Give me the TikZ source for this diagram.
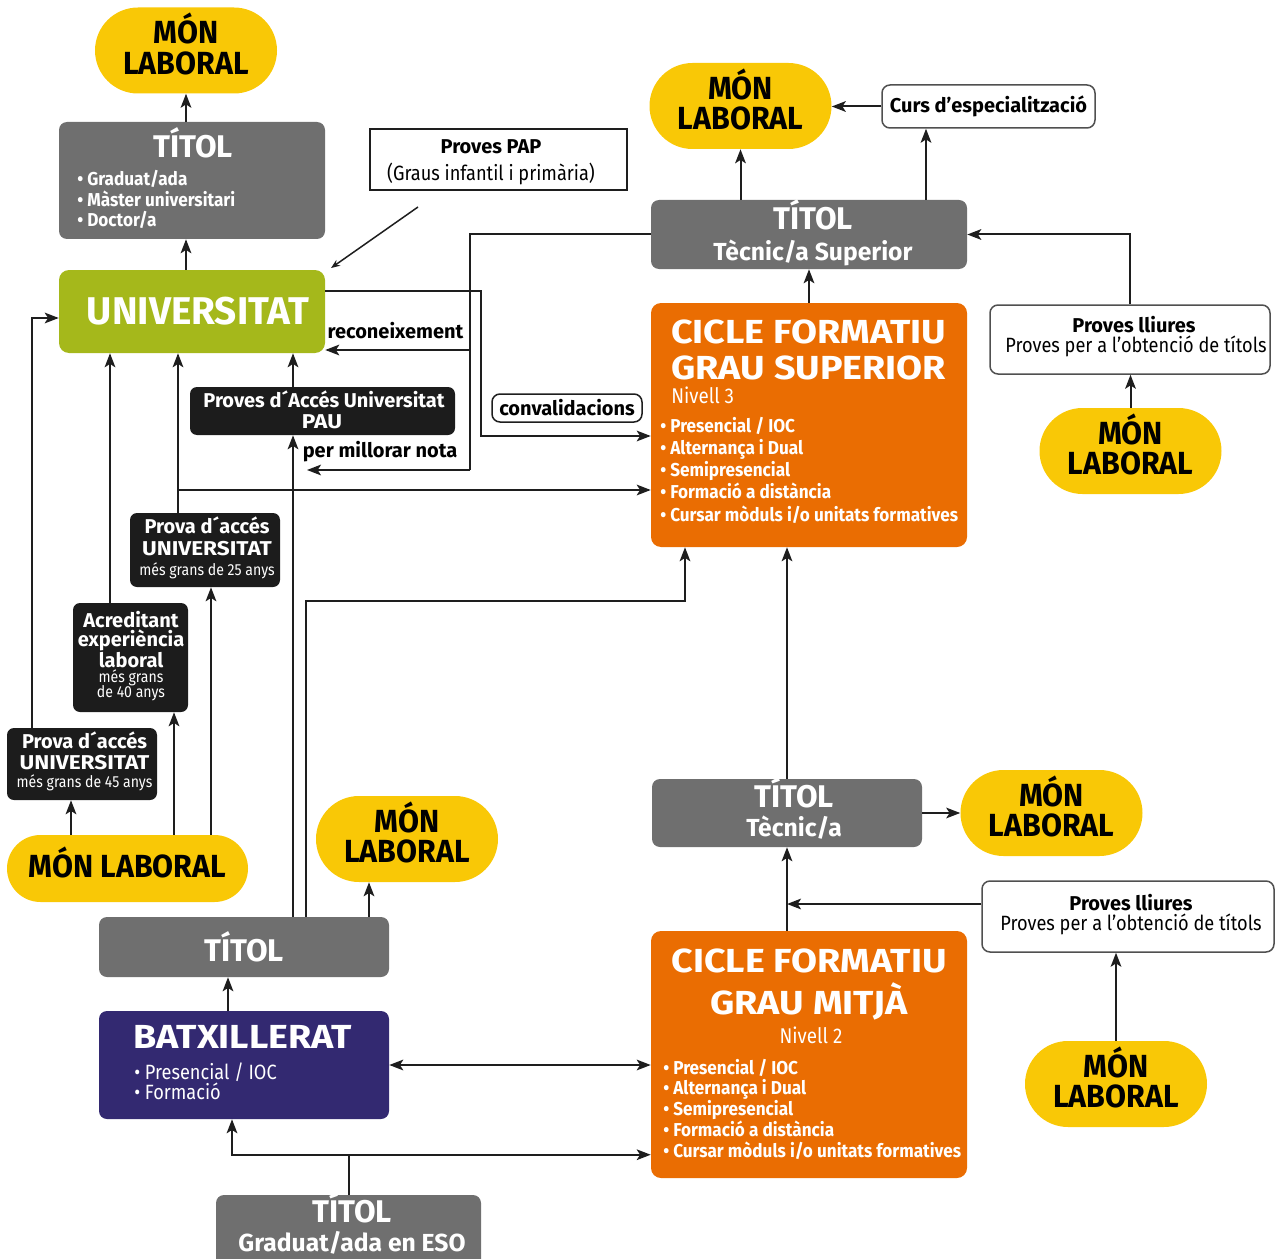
\documentclass[tikz,border=0pt]{standalone}
\usepackage{fontspec}
\setmainfont{Fira Sans}[FakeStretch=0.88]
\newfontfamily\bfam{Fira Sans}
\newfontfamily\bulfam{Fira Sans}[FakeStretch=0.92]
\newfontfamily\monfam{Fira Sans}[FakeStretch=0.95]
\newfontfamily\widefam{Fira Sans}[FakeStretch=1.13]
\usetikzlibrary{arrows.meta, shapes.misc}

\definecolor{monyellow}{RGB}{249,200,6}
\definecolor{titgray}{RGB}{111,111,111}
\definecolor{univgreen}{RGB}{165,184,27}
\definecolor{cforange}{RGB}{234,109,2}
\definecolor{batxblue}{RGB}{51,41,113}
\definecolor{boxblack}{RGB}{28,28,28}
\definecolor{linec}{RGB}{30,30,30}
\definecolor{rimgray}{RGB}{80,80,80}

\newlength\pxl
\setlength\pxl{0.75pt}
\newcommand\fmon{\monfam\bfseries\fontsize{24}{23}\selectfont}
\newcommand\ftit{\bfam\bfseries\fontsize{23.5}{24}\selectfont}
\newcommand\fsub{\bfam\bfseries\fontsize{18.5}{20}\selectfont}
\newcommand\funiv{\bfam\bfseries\fontsize{29}{30}\selectfont}
\newcommand\fcf{\widefam\bfseries\fontsize{25}{27}\selectfont}
\newcommand\fniv{\fontsize{16}{18}\selectfont}
\newcommand\fbul{\bulfam\bfseries\fontsize{14}{16}\selectfont}
\newcommand\fsm{\bfam\bfseries\fontsize{15}{16}\selectfont}
\newcommand\fcap{\widefam\bfseries\fontsize{15}{16}\selectfont}
\newcommand\freg{\fontsize{15.5}{17}\selectfont}
\newcommand\ftiny{\fontsize{12}{12}\selectfont}

\tikzset{
  mon_style/.style={rounded rectangle, fill=monyellow, text=black, font=\fmon, align=center, inner sep=0pt, text depth=10pt, minimum width=182\pxl, minimum height=86\pxl},
  tit_style/.style={rectangle, rounded corners=8\pxl, fill=titgray, text=white, align=center, inner sep=0pt},
  blk_style/.style={rectangle, rounded corners=7\pxl, fill=boxblack, inner sep=0pt},
  cf_style/.style={rectangle, rounded corners=10\pxl, fill=cforange, inner sep=0pt, minimum width=316\pxl},
  wht_style/.style={rectangle, rounded corners=8\pxl, draw=rimgray, line width=1.5\pxl, fill=white, align=center, inner sep=0pt},
  tx_style/.style={inner sep=0pt, text=white},
  arr/.style={draw=linec, line width=2\pxl, -{Stealth[length=10.5pt, width=8pt, inset=2.5pt]}},
  arr2/.style={draw=linec, line width=2\pxl, {Stealth[length=10.5pt, width=8pt, inset=2.5pt]}-{Stealth[length=10.5pt, width=8pt, inset=2.5pt]}},
  lin/.style={draw=linec, line width=2\pxl},
}

\begin{document}
\begin{tikzpicture}[x=0.75pt, y=-0.75pt]
    \useasboundingbox (0,0) rectangle (1275,1259);

    % university side
    \node[mon_style] (ml1) at (186,50.5) {MÓN\\LABORAL};
    \node[tit_style, minimum width=266\pxl, minimum height=117\pxl] (titU) at (192,180.5) {};
    \node[tx_style, anchor=base, font=\ftit] at (193,158) {TÍTOL};
    \foreach \lbl [count=\i] in {Graduat/ada, Màster universitari, Doctor/a}
        \node[tx_style, anchor=base west, font=\fbul] at (77,{165.5+20.5*\i}) {• \lbl};
    \node[rectangle, rounded corners=10\pxl, fill=univgreen, text=white, font=\funiv, minimum width=266\pxl, minimum height=83\pxl, inner sep=0pt] (univ) at (192,311.5) {\hspace{12\pxl}UNIVERSITAT};

    \node[draw=linec, line width=1.2\pxl, fill=white, minimum width=257\pxl, minimum height=61\pxl, inner sep=0pt] (pap) at (498.5,159.5) {};
    \node[anchor=base, font=\fsm] at (491,154) {Proves PAP};
    \node[anchor=base, font=\freg] at (491,181) {(Graus infantil i primària)};

    \node[blk_style, minimum width=265\pxl, minimum height=48\pxl] (pau) at (322.5,411) {};
    \node[tx_style, anchor=base, font=\fsm] at (324,407) {Proves d´Accés Universitat};
    \node[tx_style, anchor=base, font=\fcap] at (322,428) {PAU};

    \node[blk_style, minimum width=150\pxl, minimum height=74\pxl] (p25) at (205,550) {};
    \node[tx_style, anchor=base, font=\fsm] at (207,533) {Prova d´accés};
    \node[tx_style, anchor=base, font=\fcap] at (207,555) {UNIVERSITAT};
    \node[tx_style, anchor=base, font=\ftiny] at (207,575) {més grans de 25 anys};

    \node[blk_style, minimum width=115\pxl, minimum height=109\pxl] (acr) at (130.5,657.5) {};
    \node[tx_style, anchor=base, font=\fsm] at (131,627) {Acreditant};
    \node[tx_style, anchor=base, font=\fsm] at (131,646) {experiència};
    \node[tx_style, anchor=base, font=\fsm] at (131,667) {laboral};
    \node[tx_style, anchor=base, font=\ftiny] at (131,682) {més grans};
    \node[tx_style, anchor=base, font=\ftiny] at (131,697) {de 40 anys};

    \node[blk_style, minimum width=150\pxl, minimum height=72\pxl] (p45) at (82,764) {};
    \node[tx_style, anchor=base, font=\fsm] at (84.5,748) {Prova d´accés};
    \node[tx_style, anchor=base, font=\fcap] at (84.5,769) {UNIVERSITAT};
    \node[tx_style, anchor=base, font=\ftiny] at (84.5,787) {més grans de 45 anys};

    \node[mon_style, minimum width=241\pxl, minimum height=67\pxl] (ml4) at (127.5,868.5) {MÓN LABORAL};
    \node[mon_style] (ml5) at (407,839) {MÓN\\LABORAL};

    \node[tit_style, minimum width=290\pxl, minimum height=60\pxl, font=\ftit] (titB) at (244,947) {TÍTOL};
    \node[rectangle, rounded corners=8\pxl, fill=batxblue, minimum width=290\pxl, minimum height=108\pxl] (batx) at (244,1065) {};
    \node[tx_style, anchor=base west, font=\fcf] at (133,1048) {BATXILLERAT};
    \node[tx_style, anchor=base west, font=\freg] at (134,1079) {• Presencial / IOC};
    \node[tx_style, anchor=base west, font=\freg] at (134,1099) {• Formació};

    \node[tit_style, minimum width=265\pxl, minimum height=75\pxl] (titE) at (348.5,1232.5) {};
    \node[tx_style, anchor=base, font=\ftit] at (352,1222) {TÍTOL};
    \node[tx_style, anchor=base, font=\fsub] at (352,1251) {Graduat/ada en ESO};

    % vocational side
    \node[mon_style] (ml2) at (740.5,106) {MÓN\\LABORAL};
    \node[wht_style, minimum width=213\pxl, minimum height=43\pxl, font=\fsm] (curs) at (988.5,106.5) {Curs d’especialització};
    \node[tit_style, minimum width=316\pxl, minimum height=69\pxl] (titS) at (809,234.5) {};
    \node[tx_style, anchor=base, font=\ftit] at (813,229) {TÍTOL};
    \node[tx_style, anchor=base, font=\fsub] at (813,260) {Tècnic/a Superior};

    \node[cf_style, minimum height=244\pxl] (cfgs) at (809,425) {};
    \node[tx_style, anchor=base west, font=\fcf] at (671,343) {CICLE FORMATIU};
    \node[tx_style, anchor=base west, font=\fcf] at (671,379) {GRAU SUPERIOR};
    \node[tx_style, anchor=base west, font=\fniv] at (671,403) {Nivell 3};
    \foreach \lbl [count=\i] in {Presencial / IOC, Alternança i Dual, Semipresencial, Formació a distància, Cursar mòduls i/o unitats formatives}
        \node[tx_style, anchor=base west, font=\fbul] at (660,{409.75+22.25*\i}) {• \lbl};

    \node[wht_style, minimum width=280\pxl, minimum height=69\pxl] (pl1) at (1130,339.5) {};
    \node[anchor=base, font=\fsm] at (1134,332) {Proves lliures};
    \node[anchor=base, font=\freg] at (1136,352) {Proves per a l’obtenció de títols};
    \node[mon_style] (ml3) at (1130.5,451) {MÓN\\LABORAL};

    \node[tit_style, minimum width=270\pxl, minimum height=68\pxl] (titT) at (787,813) {};
    \node[tx_style, anchor=base, font=\ftit] at (794,807) {TÍTOL};
    \node[tx_style, anchor=base, font=\fsub] at (794,836) {Tècnic/a};
    \node[mon_style] (ml6) at (1051.5,813) {MÓN\\LABORAL};

    \node[cf_style, minimum height=247\pxl] (cfgm) at (809,1054.5) {};
    \node[tx_style, anchor=base, font=\fcf] at (809,972) {CICLE FORMATIU};
    \node[tx_style, anchor=base, font=\fcf] at (809,1014) {GRAU MITJÀ};
    \node[tx_style, anchor=base, font=\fniv] at (811,1043) {Nivell 2};
    \foreach \lbl [count=\i] in {Presencial / IOC, Alternança i Dual, Semipresencial, Formació a distància, Cursar mòduls i/o unitats formatives}
        \node[tx_style, anchor=base west, font=\fbul] at (663,{1053.25+20.75*\i}) {• \lbl};

    \node[wht_style, minimum width=292\pxl, minimum height=71\pxl] (pl2) at (1128,916.5) {};
    \node[anchor=base, font=\fsm] at (1131,910) {Proves lliures};
    \node[anchor=base, font=\freg] at (1131,930) {Proves per a l’obtenció de títols};
    \node[mon_style] (ml7) at (1116,1084) {MÓN\\LABORAL};

    % labels on the links
    \node[anchor=base, font=\fsm] (rec) at (395.5,338) {reconeixement};
    \node[anchor=base, font=\fsm] (pmn) at (380,457) {per millorar nota};
    \node[wht_style, draw=linec, minimum width=150\pxl, minimum height=28\pxl, font=\fsm] (conv) at (567,408) {convalidacions};

    % links, university side
    \draw[arr] (ml1.south |- titU.north) -- (ml1.south);
    \draw[arr] (ml1.south |- univ.north) -- (ml1.south |- titU.south);
    \coordinate (papA) at (418,207);
    \coordinate (papB) at (331,268);
    \draw[draw=linec, line width=1.5\pxl, -{Stealth[length=6.75pt, width=5.25pt]}] (papA) -- (papB);

    \coordinate (rkB) at (470,470);
    \coordinate (rkC) at (470,350);
    \coordinate (pmnT) at (307,470);
    \draw[lin] (titS.west) -| (rkB);
    \draw[arr] (rkB) -- (pmnT);
    \draw[arr] (rkC) -- (rkC -| univ.east);

    \coordinate (cvA) at (481,291);
    \coordinate (cvB) at (481,436);
    \draw[arr] (univ.east |- cvA) -- (cvA) -- (cvB) -- (cvB -| cfgs.west);

    \coordinate (tb1) at ([xshift=49\pxl]titB.north);
    \coordinate (tb2) at ([xshift=62\pxl]titB.north);
    \coordinate (tb3) at ([xshift=125\pxl]titB.north);
    \draw[arr] (tb1) -- (tb1 |- pau.south);
    \draw[arr] (tb1 |- pau.north) -- (tb1 |- univ.south);
    \coordinate (cfA) at (306,601);
    \coordinate (cfB) at (685,601);
    \draw[arr] (tb2) -- (cfA) -- (cfB) -- (cfB |- cfgs.south);
    \draw[arr] (tb3) -- (tb3 |- ml5.south);

    \coordinate (p25t) at ([xshift=-27\pxl]p25.north);
    \coordinate (p25b) at (178,490);
    \draw[arr] (p25t) -- (p25t |- univ.south);
    \draw[arr] (p25b) -- (p25b -| cfgs.west);
    \coordinate (acrt) at ([xshift=-20.5\pxl]acr.north);
    \draw[arr] (acrt) -- (acrt |- univ.south);
    \coordinate (p45t) at ([xshift=-50\pxl]p45.north);
    \coordinate (p45c) at (32,318);
    \draw[arr] (p45t) -- (p45c) -- (p45c -| univ.west);

    \foreach \dx/\tgt in {-56.5/p45, 46.5/acr, 83.5/p25} {
        \coordinate (m4) at ([xshift=\dx\pxl]ml4.north);
        \draw[arr] (m4) -- (m4 |- \tgt.south);
    }

    \coordinate (bxt) at ([xshift=-16\pxl]batx.north);
    \draw[arr] (bxt) -- (bxt |- titB.south);
    \draw[arr2] (batx.east) -- (batx.east -| cfgm.west);
    \coordinate (esoJ) at ([yshift=40\pxl]titE.north);
    \coordinate (bxb) at ([xshift=-12\pxl]batx.south);
    \draw[lin] (titE.north) -- (esoJ);
    \draw[arr] (esoJ) -| (bxb);
    \draw[arr] (esoJ) -- (esoJ -| cfgm.west);

    % links, vocational side
    \draw[arr] (ml2.south |- titS.north) -- (ml2.south);
    \coordinate (tsc) at ([xshift=117\pxl]titS.north);
    \draw[arr] (tsc) -- (tsc |- curs.south);
    \draw[arr] (curs.west) -- (curs.west -| ml2.east);
    \draw[arr] (cfgs.north) -- (titS.south);
    \draw[arr] (pl1.north) |- (titS.east);
    \draw[arr] (ml3.north) -- (ml3.north |- pl1.south);
    \draw[arr] (titT.north) -- (titT.north |- cfgs.south);
    \draw[arr] (titT.south |- cfgm.north) -- (titT.south);
    \draw[arr] (titT.east) -- (ml6.west);
    \coordinate (pl2w) at ([yshift=12.5\pxl]pl2.west);
    \draw[arr] (pl2w) -- (pl2w -| titT.south);
    \draw[arr] (ml7.north) -- (ml7.north |- pl2.south);

\end{tikzpicture}
\end{document}
